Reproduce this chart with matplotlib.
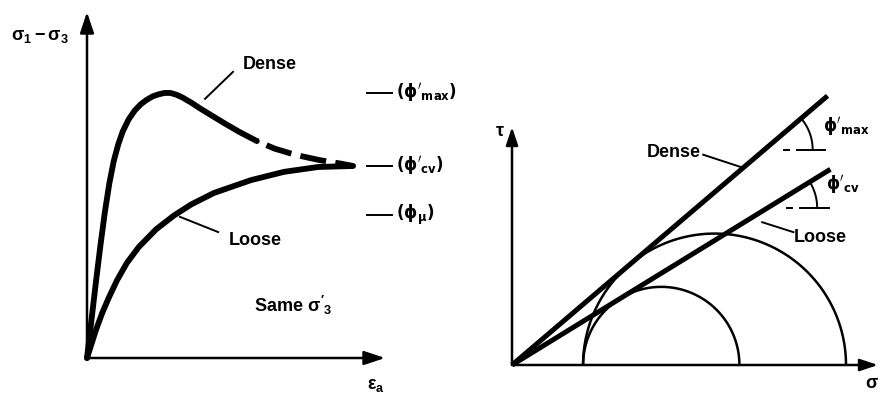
import numpy as np
import matplotlib.pyplot as plt

plt.rcParams['font.family'] = ['Liberation Sans', 'DejaVu Sans']
plt.rcParams['font.weight'] = 'bold'
plt.rcParams['mathtext.fontset'] = 'custom'
plt.rcParams['mathtext.rm'] = 'Liberation Sans:bold'
plt.rcParams['mathtext.it'] = 'Liberation Sans:bold'
plt.rcParams['mathtext.bf'] = 'Liberation Sans:bold'
plt.rcParams['mathtext.sf'] = 'Liberation Sans:bold'

# stress-strain curves (axial strain vs deviator stress, arbitrary units)
strain_dense = [0.0, 0.15, 0.30, 0.45, 0.60, 0.75, 0.90, 1.05, 1.20, 1.40,
                1.60, 1.80, 2.00, 2.20, 2.40, 2.60, 2.80, 3.00, 3.20, 3.50,
                3.80, 4.20, 4.60, 5.10, 5.70]
q_dense = [0.0, 1.10, 2.20, 3.25, 4.22, 5.05, 5.70, 6.18, 6.55, 6.90,
           7.15, 7.33, 7.46, 7.56, 7.62, 7.66, 7.66, 7.61, 7.53, 7.38,
           7.21, 7.00, 6.79, 6.54, 6.27]
# dense sample beyond the tested range, shown dashed
strain_dense_tail = [5.70, 6.30, 7.00, 7.80, 8.50, 8.93]
q_dense_tail = [6.27, 6.05, 5.87, 5.72, 5.62, 5.55]

strain_loose = [0.0, 0.30, 0.51, 0.74, 1.01, 1.34, 1.74, 2.32, 2.92, 3.50,
                4.26, 5.50, 6.61, 7.75, 8.93]
q_loose = [0.0, 0.81, 1.30, 1.76, 2.25, 2.75, 3.21, 3.72, 4.12, 4.44,
           4.77, 5.14, 5.38, 5.52, 5.55]

q_phi_mu = 4.13

# Mohr circles at failure, same confining stress
sigma3 = 1.0
sigma1_dense = 4.7
sigma1_loose = 3.2


def friction_angle(s3, s1):
    c = (s1 + s3) / 2
    r = (s1 - s3) / 2
    return np.arcsin(r / c)


phi_max = friction_angle(sigma3, sigma1_dense)
phi_cv = friction_angle(sigma3, sigma1_loose)

W, H = 884, 394
fig = plt.figure(figsize=(W / 100, H / 100), dpi=100)


def px_axes(x0, y0, x1, y1):
    # axes from origin pixel (x0, y0) to top-right pixel (x1, y1)
    return fig.add_axes([x0 / W, 1 - y0 / H, (x1 - x0) / W, (y0 - y1) / H])


def arrow_axes(ax, scale):
    style = '-|>,head_length=0.9,head_width=0.3'
    for end in [(1, 0), (0, 1)]:
        ax.annotate('', xy=end, xytext=(0, 0), xycoords='axes fraction',
                    arrowprops=dict(arrowstyle=style, color='k', lw=1.8,
                                    mutation_scale=scale, shrinkA=0, shrinkB=0))


fs = 13
lead = dict(color='k', lw=1.4, clip_on=False)
phi_txt = dict(math_fontfamily='dejavusans')

# ---- left: deviator stress vs axial strain ----
ax1 = px_axes(87, 358, 385, 12)
ax1.set_xlim(0, 10)
ax1.set_ylim(0, 10)
ax1.axis('off')
arrow_axes(ax1, 14)

ax1.plot(strain_dense, q_dense, color='k', lw=4.2, solid_capstyle='round',
         solid_joinstyle='round', clip_on=False)
ax1.plot(strain_dense_tail, q_dense_tail, color='k', lw=4.2,
         ls=(4.3, (4.5, 1.6)), clip_on=False)
ax1.plot(strain_loose, q_loose, color='k', lw=4.2, solid_capstyle='round',
         solid_joinstyle='round', clip_on=False)

ax1.text(6.14, 8.47, 'Dense', fontsize=fs, ha='center', va='center')
ax1.plot([4.90, 3.96], [8.27, 7.49], **lead)
ax1.text(5.64, 3.41, 'Loose', fontsize=fs, ha='center', va='center')
ax1.plot([4.40, 3.12], [3.64, 4.08], **lead)
ax1.text(6.91, 1.53, "Same $σ'_3$", fontsize=fs, ha='center', va='center')
ax1.text(-1.58, 9.28, '$σ_1 - σ_3$', fontsize=fs, ha='center', va='center')
ax1.text(9.70, -0.80, '$ε_a$', fontsize=fs, ha='center', va='center')

levels = [(max(q_dense), r"$\mathbf{(\phi'_{max})}$"),
          (q_loose[-1], r"$\mathbf{(\phi'_{cv})}$"),
          (q_phi_mu, r"$\mathbf{(\phi_{\mu})}$")]
for lev, lab in levels:
    ax1.plot([9.40, 10.23], [lev, lev], **lead)
    ax1.text(10.37, lev, lab, fontsize=fs - 1, ha='left', va='center',
             **phi_txt)

# ---- right: Mohr circles and strength envelopes ----
ax2 = px_axes(512, 365, 878, 127)
ax2.set_xlim(0, 5.15)
ax2.set_ylim(0, 3.35)
ax2.axis('off')
arrow_axes(ax2, 12)

t = np.linspace(0, np.pi, 300)
for s1 in [sigma1_loose, sigma1_dense]:
    c = (s1 + sigma3) / 2
    r = (s1 - sigma3) / 2
    ax2.plot(c + r * np.cos(t), r * np.sin(t), color='k', lw=1.8)

envelopes = [(phi_max, 4.44, 3.03, 0.68, r"$\mathbf{\phi'_{max}}$"),
             (phi_cv, 4.48, 2.21, 0.70, r"$\mathbf{\phi'_{cv}}$")]
for phi, s_end, tau_h, rad, lab in envelopes:
    ax2.plot([0, s_end], [0, s_end * np.tan(phi)], color='k', lw=3.6,
             solid_capstyle='butt', clip_on=False)
    s_i = tau_h / np.tan(phi)
    ax2.plot([s_i + 0.27, s_i + 0.35], [tau_h, tau_h], **lead)
    ax2.plot([s_i + 0.46, s_i + 0.86], [tau_h, tau_h], **lead)
    a = np.linspace(0, phi, 50)
    ax2.plot(s_i + rad * np.cos(a), tau_h + rad * np.sin(a), **lead)
    ax2.text(s_i + 0.82, tau_h + 0.33, lab, fontsize=fs - 1, ha='left',
             va='center', **phi_txt)

ax2.text(2.27, 2.99, 'Dense', fontsize=fs, ha='center', va='center')
ax2.plot([2.69, 3.21], [2.96, 2.79], **lead)
ax2.text(4.34, 1.80, 'Loose', fontsize=fs, ha='center', va='center')
ax2.plot([3.96, 3.52], [1.87, 2.01], **lead)
ax2.text(-0.17, 3.28, 'τ', fontsize=fs, ha='center', va='center')
ax2.text(5.06, -0.26, 'σ', fontsize=fs, ha='center', va='center')

fig.savefig('out.png', dpi=100)
